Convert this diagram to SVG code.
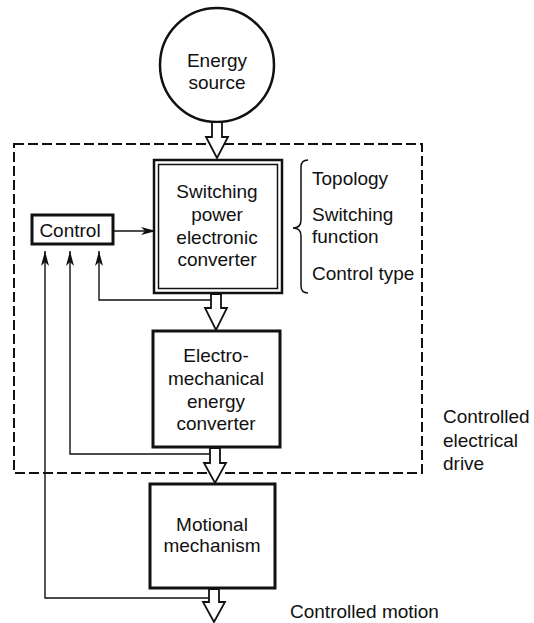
<svg xmlns="http://www.w3.org/2000/svg" width="534" height="623" viewBox="0 0 534 623">
<style>
text{font-family:"Liberation Sans",Arial,Helvetica,sans-serif;font-size:19px;fill:#111}
.c{text-anchor:middle}
.box{fill:#fff;stroke:#111;stroke-width:3}
.thin{fill:none;stroke:#111;stroke-width:1.4}
.hollow{fill:#fff;stroke:#111;stroke-width:1.8;stroke-linejoin:miter}
.dash{fill:none;stroke:#111;stroke-width:2;stroke-dasharray:10 4}
</style>
<defs>
<marker id="ah" markerUnits="userSpaceOnUse" markerWidth="16" markerHeight="8" refX="15" refY="4" orient="auto">
<path d="M0,0 L15,4 L0,8 L4,4 z" fill="#111"/>
</marker>
</defs>

<g id="drive-region">
<rect class="dash" x="14" y="144" width="408" height="329"/>
<text x="443" y="423">Controlled</text>
<text x="443" y="447">electrical</text>
<text x="443" y="470">drive</text>
</g>

<g id="energy-source">
<circle cx="217" cy="65" r="57" fill="#fff" stroke="#111" stroke-width="2.5"/>
<text class="c" x="217" y="67">Energy</text>
<text class="c" x="217" y="89">source</text>
</g>

<g id="connectors">
<polygon class="hollow" points="212,122 222,122 222,137 228,137 217,158 206,137 212,137"/>
<polygon class="hollow" points="211,294 221,294 221,308 227,308 216,330 205,308 211,308"/>
<polygon class="hollow" points="210,448 220,448 220,463 226,463 215,483 204,463 210,463"/>
<polygon class="hollow" points="209,589 219,589 219,602 225,602 214,622 203,602 209,602"/>
<line class="thin" x1="113" y1="231" x2="156" y2="231" marker-end="url(#ah)"/>
<polyline class="thin" points="211,300 99,300 99,251" marker-end="url(#ah)"/>
<polyline class="thin" points="210,454 70,454 70,251" marker-end="url(#ah)"/>
<polyline class="thin" points="209,598 45,598 45,251" marker-end="url(#ah)"/>
</g>

<g id="switching-converter">
<rect x="154" y="160" width="128" height="133" fill="#fff" stroke="#111" stroke-width="2.5"/>
<rect x="158.5" y="164.5" width="119" height="124" fill="none" stroke="#111" stroke-width="1.5"/>
<text class="c" x="217" y="198">Switching</text>
<text class="c" x="217" y="221">power</text>
<text class="c" x="217" y="244">electronic</text>
<text class="c" x="217" y="266">converter</text>
</g>

<g id="control">
<rect class="box" x="32" y="215" width="81" height="29"/>
<text class="c" x="70" y="237">Control</text>
</g>

<g id="converter-attributes">
<path d="M308,160 Q301,160 301,167 L301,220 Q301,228 293,228 Q301,228 301,236 L301,286 Q301,293 308,293" fill="none" stroke="#111" stroke-width="1.5"/>
<text x="312" y="185">Topology</text>
<text x="312" y="221">Switching</text>
<text x="312" y="243">function</text>
<text x="312" y="280">Control type</text>
</g>

<g id="electromechanical-converter">
<rect class="box" x="153" y="331" width="127" height="116"/>
<text class="c" x="216" y="362">Electro-</text>
<text class="c" x="216" y="385">mechanical</text>
<text class="c" x="216" y="408">energy</text>
<text class="c" x="216" y="430">converter</text>
</g>

<g id="motional-mechanism">
<rect class="box" x="150" y="484" width="125" height="104"/>
<text class="c" x="212" y="531">Motional</text>
<text class="c" x="212" y="552">mechanism</text>
</g>

<g id="output-label">
<text x="290" y="618">Controlled motion</text>
</g>
</svg>
